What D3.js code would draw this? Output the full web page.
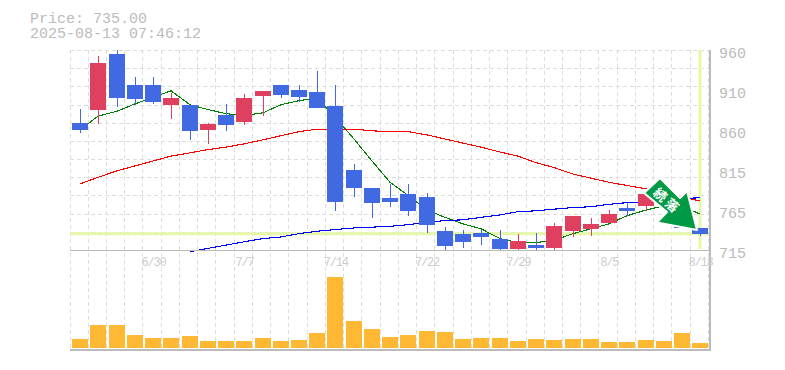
<!DOCTYPE html>
<html>
<head>
<meta charset="utf-8">
<script src="https://cdn.jsdelivr.net/npm/d3@7"></script>
<style>
  html, body { margin: 0; padding: 0; background: #fff; }
  text { font-family: "Liberation Mono", monospace; fill: #bbb; }
</style>
</head>
<body>
<svg id="chart"></svg>
<script>
const dates = ["6/24","6/25","6/26","6/27","6/30","7/1","7/2","7/3","7/4","7/7","7/8","7/9","7/10","7/11","7/14","7/15","7/16","7/17","7/18","7/22","7/23","7/24","7/25","7/28","7/29","7/30","7/31","8/1","8/4","8/5","8/6","8/7","8/8","8/12","8/13"];
const dateLabels = ["6/30","7/7","7/14","7/22","7/29","8/5","8/13"];
const opens  = [871,887,955,917,917,893,893,862,880,872,904,917,911,909,891,813,791,779,784,780,738,735,736,729,716,721,717,738,741,748,766,769,775,770,742];
const closes = [862,944,901,900,896,901,861,869,868,901,910,905,902,889,774,791,773,774,763,746,720,725,731,716,726,717,744,757,747,759,763,784,785,742,735];
const highs  = [888,953,960,927,927,907,893,871,894,906,910,917,917,934,917,820,791,796,796,785,743,740,740,740,735,736,748,757,754,764,773,784,788,775,742];
const lows   = [858,869,890,893,894,876,850,845,861,868,879,901,896,889,763,780,754,768,757,736,714,717,721,715,714,714,715,731,732,748,757,763,770,742,732];
const ma5   = [862,879,885,894,902,910,893,887,882,880,883,893,898,901,878,851,824,798,782,764,755,747,741,729,724,724,727,735,741,747,757,764,769,769,759];
const ma25  = [796,804,812,818,824,830,834,838,841,845,850,855,860,863,863,863,861,860,860,856,851,846,841,835,830,822,816,808,803,798,794,790,785,780,775];
const ma75  = [null,null,null,null,null,null,713,717,721,725,729,731,735,738,740,742,743,744,746,749,751,752,755,758,762,763,765,767,768,771,773,774,776,778,779];
const volume = [9,23,23,13,10,10,12,7,7,7,10,7,8,15,71,27,19,11,13,17,16,9,10,10,7,9,8,9,9,6,6,8,7,15,5];
const priceTicks = [960,911,862,813,764,715];
const priceLabels = ["960","910","860","815","765","715"];
const lastPrice = 735;

const width = 785, height = 370;
const plotLeft = 70, plotRight = 710, plotTop = 50, plotMid = 250, plotBottom = 350;

const svg = d3.select("#chart").attr("width", width).attr("height", height)
  .style("display", "block");

const x = d3.scaleBand().domain(dates).range([71, 709.4]);
const cx = (d) => Math.round(x(d) + x.bandwidth() / 2);
const y = d3.scaleLinear().domain([715, 960]).range([plotMid, plotTop]);
const v = d3.scaleLinear().domain([0, 71]).range([348, 277]);

// grid
const grid = svg.append("g").attr("stroke", "#ddd").attr("stroke-dasharray", "4 3")
  .attr("shape-rendering", "crispEdges");
grid.selectAll(".gx")
  .data(dates)
  .join("line")
  .attr("class", "gx")
  .attr("x1", (d) => Math.floor(x(d)) - 0.5)
  .attr("x2", (d) => Math.floor(x(d)) - 0.5)
  .attr("y1", plotTop)
  .attr("y2", plotBottom);
grid.append("line")
  .attr("x1", 708.5).attr("x2", 708.5).attr("y1", plotTop).attr("y2", plotBottom);
grid.selectAll(".gy")
  .data(d3.range(11))
  .join("line")
  .attr("class", "gy")
  .attr("x1", plotLeft)
  .attr("x2", plotRight)
  .attr("y1", (i) => Math.round(plotTop + (i * (plotMid - plotTop)) / 11) + 0.5)
  .attr("y2", (i) => Math.round(plotTop + (i * (plotMid - plotTop)) / 11) + 0.5);

// current price cross
svg.append("line")
  .attr("x1", plotLeft).attr("x2", 708)
  .attr("y1", y(lastPrice)).attr("y2", y(lastPrice))
  .attr("stroke", "#e6f7a8").attr("stroke-width", 3);
svg.append("line")
  .attr("x1", cx("8/13")).attr("x2", cx("8/13"))
  .attr("y1", plotTop).attr("y2", 249)
  .attr("stroke", "#e6f7a8").attr("stroke-width", 3);

// moving averages
const maLine = d3.line()
  .defined((d) => d != null)
  .x((d, i) => cx(dates[i]))
  .y((d) => y(d));
[[ma5, "#008000"], [ma25, "#ff0000"], [ma75, "#0000ff"]].forEach(([s, c]) => {
  svg.append("path")
    .attr("d", maLine(s))
    .attr("fill", "none")
    .attr("stroke", c)
    .attr("stroke-width", 1.1)
    .attr("shape-rendering", "crispEdges");
});

// candles
const upColor = "#e0405f", downColor = "#4169e1";
const color = (i) => (closes[i] >= opens[i] ? upColor : downColor);
const candles = svg.append("g").attr("shape-rendering", "crispEdges");
candles.selectAll("line")
  .data(dates)
  .join("line")
  .attr("x1", (d) => cx(d) + 0.5)
  .attr("x2", (d) => cx(d) + 0.5)
  .attr("y1", (d, i) => y(highs[i]))
  .attr("y2", (d, i) => y(lows[i]))
  .attr("stroke", (d, i) => color(i));
candles.selectAll("rect")
  .data(dates)
  .join("rect")
  .attr("x", (d) => cx(d) - 8)
  .attr("width", 16)
  .attr("y", (d, i) => y(Math.max(opens[i], closes[i])))
  .attr("height", (d, i) => Math.abs(y(opens[i]) - y(closes[i])))
  .attr("fill", (d, i) => color(i));

// volume
svg.append("g").attr("shape-rendering", "crispEdges")
  .selectAll("rect")
  .data(volume)
  .join("rect")
  .attr("x", (d, i) => cx(dates[i]) - 8)
  .attr("width", 16)
  .attr("y", (d) => v(d))
  .attr("height", (d) => v(0) - v(d))
  .attr("fill", "#ffb833");

// axes
const frame = svg.append("g").attr("stroke", "#bbb").attr("shape-rendering", "crispEdges");
frame.append("line").attr("x1", plotLeft).attr("x2", plotRight + 1).attr("y1", plotMid).attr("y2", plotMid);
frame.append("line").attr("x1", plotLeft).attr("x2", plotRight + 1).attr("y1", plotBottom).attr("y2", plotBottom).attr("stroke-width", 2);
frame.append("line").attr("x1", plotRight).attr("x2", plotRight).attr("y1", plotTop).attr("y2", plotBottom + 1).attr("stroke-width", 2);

const yTickPos = d3.scalePoint().domain(priceTicks).range([plotTop, plotMid]);
const yAxis = svg.append("g")
  .attr("transform", `translate(${plotRight + 9},0)`)
  .call(d3.axisRight(yTickPos).tickSize(0).tickPadding(0).tickFormat((d, i) => priceLabels[i]));
yAxis.select(".domain").remove();
yAxis.selectAll("text").attr("font-size", 15).attr("dy", "0.35em").attr("y", 2)
  .style("font-family", '"Liberation Mono", monospace').style("fill", "#bbb");

const xAxis = svg.append("g")
  .attr("transform", `translate(0,${plotMid})`)
  .call(d3.axisBottom(d3.scalePoint().domain(dates).range([cx(dates[0]), cx(dates[34])]))
    .tickValues(dateLabels).tickSize(0).tickPadding(0));
xAxis.select(".domain").remove();
xAxis.selectAll("text").attr("font-size", 12).attr("dy", 0).attr("y", 16)
  .attr("letter-spacing", -1.2)
  .style("font-family", '"Liberation Mono", monospace').style("fill", "#ccc");

// title
svg.append("text").attr("x", 30).attr("y", 23).attr("font-size", 15).text(`Price: ${lastPrice.toFixed(2)}`);
svg.append("text").attr("x", 30).attr("y", 38).attr("font-size", 15).text("2025-08-13 07:46:12");

// signal arrow
const arrow = svg.append("g");
arrow.append("path")
  .attr("d", "M660 178L644 193L667 212L657 222.5L697 230L687 191L680 198Z")
  .attr("fill", "#009944")
  .attr("stroke", "#fff")
  .attr("stroke-width", 2)
  .attr("stroke-linejoin", "round");
arrow.append("text")
  .attr("transform", "translate(667,201) rotate(42)")
  .attr("text-anchor", "middle")
  .attr("dy", "0.35em")
  .attr("font-size", 13)
  .attr("letter-spacing", 2.6)
  .attr("font-weight", "bold")
  .style("font-family", '"Noto Sans CJK JP"')
  .style("fill", "#fff")
  .text("続落");
</script>
</body>
</html>
